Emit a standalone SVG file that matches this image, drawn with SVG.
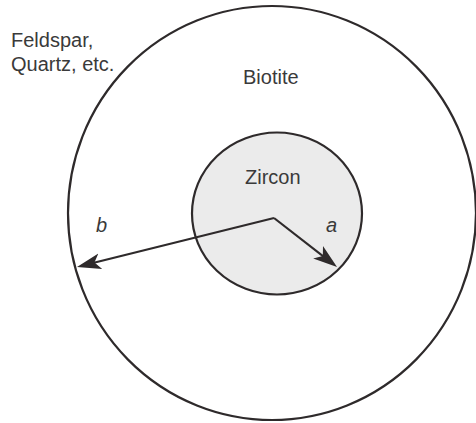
<svg xmlns="http://www.w3.org/2000/svg" width="476" height="423" viewBox="0 0 476 423">
<style>
.t{font-family:"Liberation Sans",Arial,sans-serif;font-size:20px;fill:#3a3a3a}
.i{font-style:italic}
.ring{fill:none;stroke:#2e2a2b;stroke-width:2.2}
.conn{stroke:#2e2a2b;stroke-width:2.2;fill:none}
</style>
<defs>
<marker id="head" markerUnits="userSpaceOnUse" markerWidth="30" markerHeight="20" viewBox="0 -10 30 20" refX="18" refY="0" orient="auto">
<path d="M0,-8 L24,0 L0,8 L6,0 Z" fill="#2e2a2b"/>
</marker>
</defs>
<rect width="476" height="423" fill="#ffffff"/>
<g id="biotite">
<ellipse class="ring" cx="272" cy="213" rx="204" ry="207"/>
<text class="t" x="243" y="84">Biotite</text>
</g>
<g id="zircon">
<ellipse cx="277" cy="213.5" rx="85" ry="81" fill="#ebebeb" stroke="#2e2a2b" stroke-width="2.2"/>
<text class="t" x="245" y="184">Zircon</text>
</g>
<g id="feldspar">
<text class="t" x="11" y="47">Feldspar,</text>
<text class="t" x="11" y="71">Quartz, etc.</text>
</g>
<g id="connectors">
<line class="conn" x1="274" y1="218" x2="82.8" y2="265.5" marker-end="url(#head)"/>
<line class="conn" x1="274" y1="218" x2="332.3" y2="263.3" marker-end="url(#head)"/>
<text class="t i" x="96" y="232">b</text>
<text class="t i" x="326" y="232">a</text>
</g>
</svg>
